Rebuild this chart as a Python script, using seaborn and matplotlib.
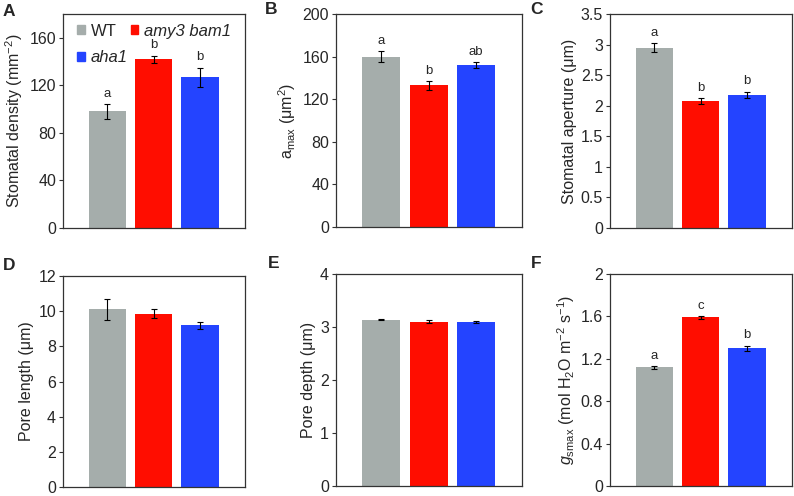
import matplotlib
matplotlib.use("Agg")
import matplotlib.pyplot as plt
from matplotlib.patches import Patch
import seaborn as sns
import pandas as pd

# --- Datos ---
genotypes = ["WT", "amy3 bam1", "aha1"]
colors = ["#a5adab", "#ff0d00", "#2444ff"]

density = [98, 142, 127]
density_err = [6, 3, 8]
density_sig = ["a", "b", "b"]

amax = [160, 133, 152]
amax_err = [5, 4, 3]
amax_sig = ["a", "b", "ab"]

aperture = [2.95, 2.08, 2.18]
aperture_err = [0.07, 0.05, 0.05]
aperture_sig = ["a", "b", "b"]

pore_length = [10.1, 9.85, 9.2]
pore_length_err = [0.6, 0.25, 0.2]

pore_depth = [3.14, 3.10, 3.10]
pore_depth_err = [0.01, 0.03, 0.02]

gsmax = [1.12, 1.59, 1.30]
gsmax_err = [0.015, 0.015, 0.025]
gsmax_sig = ["a", "c", "b"]

sns.set_theme(style="white")
plt.rcParams["font.family"] = ["Liberation Sans", "DejaVu Sans"]
plt.rcParams["mathtext.fontset"] = "custom"
plt.rcParams["mathtext.rm"] = "Liberation Sans"
plt.rcParams["mathtext.it"] = "Liberation Sans:italic"
plt.rcParams["mathtext.bf"] = "Liberation Sans:bold"

W, H = 794, 496
fig = plt.figure(figsize=(W / 100, H / 100), dpi=100)


def px_axes(left, top, right, bottom):
    return fig.add_axes([left / W, 1 - bottom / H, (right - left) / W, (bottom - top) / H])


panels = [
    # (caja en px, valores, errores, letras, ylim, paso, etiqueta, panel, pos. etiqueta)
    ((63, 14, 245, 228), density, density_err, density_sig, 180, 40,
     "Stomatal density (mm$^{-2}$)", "A", (3, 11)),
    ((336, 14, 522, 227), amax, amax_err, amax_sig, 200, 40,
     "a$_{\\mathrm{max}}$ (μm$^{2}$)", "B", (265, 9)),
    ((610, 14, 792, 228), aperture, aperture_err, aperture_sig, 3.5, 0.5,
     "Stomatal aperture (μm)", "C", (530, 9)),
    ((63, 276, 245, 487), pore_length, pore_length_err, None, 12, 2,
     "Pore length (μm)", "D", (3, 265)),
    ((336, 274, 522, 486), pore_depth, pore_depth_err, None, 4, 1,
     "Pore depth (μm)", "E", (268, 264)),
    ((610, 274, 792, 486), gsmax, gsmax_err, gsmax_sig, 2, 0.4,
     "$\\mathit{g}_{\\mathrm{smax}}$ (mol H$_{2}$O m$^{-2}$ s$^{-1}$)", "F", (531, 264)),
]

for box, vals, errs, sig, ymax, step, ylabel, letter, lpos in panels:
    ax = px_axes(*box)
    df = pd.DataFrame({"genotype": genotypes, "value": vals})
    sns.barplot(data=df, x="genotype", y="value", hue="genotype",
                palette=colors, width=0.8, legend=False, ax=ax,
                edgecolor="none", saturation=1)
    ax.errorbar(range(len(vals)), vals, yerr=errs, fmt="none",
                ecolor="black", elinewidth=0.8, capsize=2, capthick=0.8)
    if sig is not None:
        for i, (v, e, s) in enumerate(zip(vals, errs, sig)):
            ax.annotate(s, xy=(i, v + e), xytext=(0, 3), textcoords="offset points",
                        ha="center", va="bottom", fontsize=9.5)
    ax.set_xlim(-0.95, 2.97)
    ax.set_ylim(0, ymax)
    n = int(round(ymax / step))
    ticks = [round(k * step, 2) for k in range(n + 1)]
    ax.set_yticks(ticks)
    ax.set_yticklabels([f"{t:g}" for t in ticks])
    ax.set_xticks([])
    ax.set_xlabel("")
    ax.set_ylabel(ylabel, fontsize=11.5, labelpad=3)
    ax.tick_params(axis="y", labelsize=11.5, length=3, width=0.8,
                   direction="out", left=True, pad=2, color="#333333")
    for sp in ax.spines.values():
        sp.set_color("#333333")
        sp.set_linewidth(0.9)

    # etiqueta del panel
    fig.text(lpos[0] / W, 1 - lpos[1] / H, letter, fontsize=12.5, fontweight="bold",
             va="center", ha="left")

    if letter == "A":
        handles = [Patch(color=colors[0], label=genotypes[0]),
                   Patch(color=colors[2], label=genotypes[2]),
                   Patch(color=colors[1], label=genotypes[1])]
        leg = ax.legend(handles=handles, ncol=2, frameon=False, loc="upper left",
                        fontsize=12, handlelength=0.45, handleheight=0.45,
                        handletextpad=0.35, columnspacing=0.2, labelspacing=0.7,
                        borderpad=0.3, borderaxespad=0.0,
                        bbox_to_anchor=(0.05, 0.978))
        for t in leg.get_texts():
            if t.get_text() != "WT":
                t.set_fontstyle("italic")

fig.savefig("out.png", dpi=100)
